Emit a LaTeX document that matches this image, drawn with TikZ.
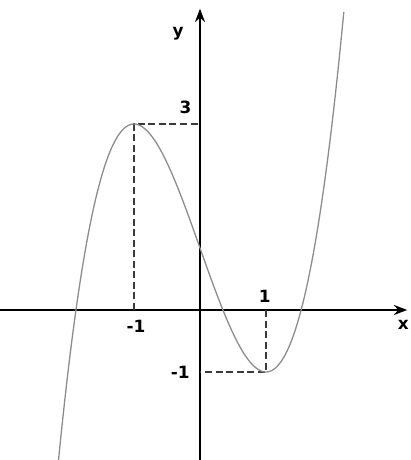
\documentclass[tikz,border=0pt]{standalone}
\usepackage{fontspec}
\setmainfont{DejaVu Sans}
\usetikzlibrary{arrows.meta, positioning, calc}
\definecolor{curvegray}{HTML}{8C8C8C}
\definecolor{guidegray}{HTML}{3A3A3A}
\tikzset{
    axis/.style={-{Stealth[length=4mm, width=3mm]}, line width=2.2pt, draw=black},
    guide/.style={line width=2pt, draw=guidegray, dash pattern=on 6pt off 3pt},
    graph/.style={line width=1.1pt, draw=curvegray},
    lbl/.style={font=\Large\bfseries, inner sep=1pt}
}

\begin{document}
\begin{tikzpicture}[x=1.98cm, y=1.86cm]
                \useasboundingbox (-3.0303,-2.4194) rectangle (3.197,5.0);
                \coordinate (o) at (0,0);
                \coordinate (xl) at (-3.05,0);
                \coordinate (xr) at (3.14,0);
                \coordinate (yb) at (0,-2.45);
                \coordinate (yt) at (0,4.86);
                \coordinate (pm) at (-1,0);
                \coordinate (pmax) at (-1,3);
                \coordinate (ymax) at (0,3);
                \coordinate (pp) at (1,0);
                \coordinate (pmin) at (1,-1);
                \coordinate (ymin) at (0,-1);

                \draw[axis] (xl) -- (xr);
                \draw[axis] (yb) -- (yt);

                \draw[guide] (pm) -- (pmax) -- (ymax);
                \draw[guide] (pp) -- (pmin) -- (ymin);

                \draw[graph] plot[domain=-2.15:2.18, samples=120, smooth] (\x, {\x*\x*\x-3*\x+1});

                \node[lbl] (ylab) at (-0.33,4.45) {y};
                \node[lbl] (xlab) at (3.08,-0.24) {x};
                \node[lbl] (tmax) at (-0.22,3.27) {3};
                \node[lbl] (tm) at (-0.97,-0.27) {-1};
                \node[lbl] (tp) at (0.98,0.22) {1};
                \node[lbl] (tmin) at (-0.3,-1.0) {-1};
            \end{tikzpicture}
\end{document}
